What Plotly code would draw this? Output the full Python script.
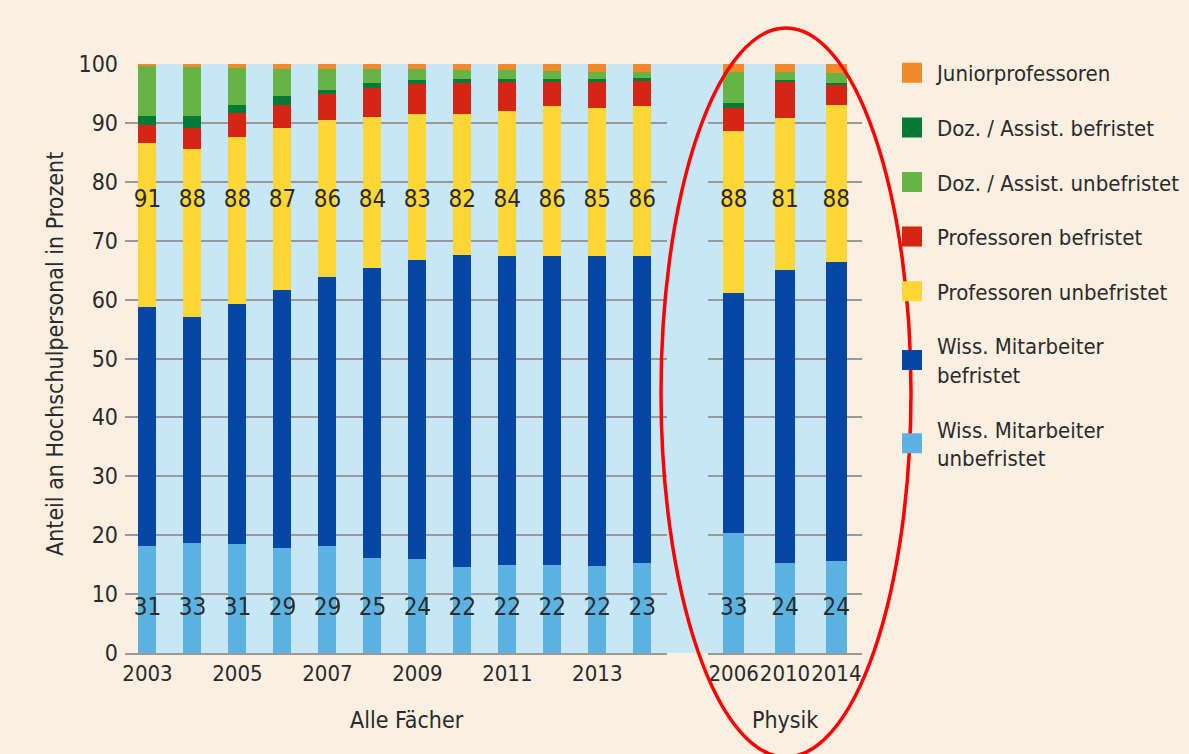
import plotly.graph_objects as go

# ---------------- data ----------------
years = [2003, 2004, 2005, 2006, 2007, 2008, 2009, 2010, 2011, 2012, 2013, 2014]
wiss_unbef = [18.2, 18.7, 18.5, 17.9, 18.2, 16.1, 15.9, 14.6, 14.9, 14.9, 14.8, 15.2]
wiss_bef = [40.6, 38.4, 40.8, 43.7, 45.7, 49.2, 50.8, 53.0, 52.5, 52.5, 52.6, 52.2]
prof_unbef = [27.8, 28.4, 28.3, 27.5, 26.6, 25.7, 24.8, 23.9, 24.7, 25.4, 25.2, 25.5]
prof_bef = [3.0, 3.7, 4.0, 4.0, 4.4, 5.0, 5.1, 5.2, 4.8, 4.2, 4.3, 4.2]
doz_bef = [1.5, 1.9, 1.5, 1.5, 0.7, 0.7, 0.7, 0.8, 0.6, 0.5, 0.6, 0.6]
doz_unbef = [8.6, 8.4, 6.3, 4.6, 3.6, 2.5, 1.8, 1.4, 1.4, 1.3, 1.2, 1.0]
junior = [0.3, 0.5, 0.6, 0.8, 0.8, 0.8, 0.9, 1.1, 1.1, 1.2, 1.3, 1.3]
label_low = [31, 33, 31, 29, 29, 25, 24, 22, 22, 22, 22, 23]
label_high = [91, 88, 88, 87, 86, 84, 83, 82, 84, 86, 85, 86]

p_years = ["2006", "2010", "2014"]
p_wiss_unbef = [20.3, 15.3, 15.7]
p_wiss_bef = [40.9, 49.8, 50.7]
p_prof_unbef = [27.5, 25.7, 26.6]
p_prof_bef = [3.8, 6.1, 3.5]
p_doz_bef = [0.9, 0.4, 0.3]
p_doz_unbef = [5.3, 1.4, 1.6]
p_junior = [1.3, 1.3, 1.6]
p_label_low = [33, 24, 24]
p_label_high = [88, 81, 88]

x_ticks_left = [2003, 2005, 2007, 2009, 2011, 2013]
y_ticks = [0, 10, 20, 30, 40, 50, 60, 70, 80, 90, 100]

# ---------------- style ----------------
FONT = "Liberation Sans Narrow, DejaVu Sans Condensed, Roboto Condensed, Arial Narrow, sans-serif"
TXT = "#2a2a2a"
BG = "#fbefe2"
PLOTBLUE = "#c7e6f6"
GRID = "#999999"

series = [
    ("Wiss. Mitarbeiter<br>unbefristet", wiss_unbef, p_wiss_unbef, "#5cb3e1"),
    ("Wiss. Mitarbeiter<br>befristet", wiss_bef, p_wiss_bef, "#0646a5"),
    ("Professoren unbefristet", prof_unbef, p_prof_unbef, "#fed736"),
    ("Professoren befristet", prof_bef, p_prof_bef, "#d52515"),
    ("Doz. / Assist. befristet", doz_bef, p_doz_bef, "#067a38"),
    ("Doz. / Assist. unbefristet", doz_unbef, p_doz_unbef, "#66b445"),
    ("Juniorprofessoren", junior, p_junior, "#f28a2b"),
]
legend_order = ["Juniorprofessoren", "Doz. / Assist. befristet", "Doz. / Assist. unbefristet",
                "Professoren befristet", "Professoren unbefristet",
                "Wiss. Mitarbeiter<br>befristet", "Wiss. Mitarbeiter<br>unbefristet"]

fig = go.Figure()
BW = 0.4
for name, vals, pvals, col in series:
    fig.add_trace(go.Bar(x=years, y=vals, marker=dict(color=col, line=dict(width=0)),
                         width=BW, xaxis="x", yaxis="y", showlegend=False, hoverinfo="skip"))
    fig.add_trace(go.Bar(x=p_years, y=pvals, marker=dict(color=col, line=dict(width=0)),
                         width=BW, xaxis="x2", yaxis="y2", showlegend=False, hoverinfo="skip"))

# in-bar labels
LOW_Y, HIGH_Y = 7.4, 76.7
LBL = dict(family=FONT, size=24, color=TXT)
fig.add_trace(go.Scatter(x=years, y=[LOW_Y] * len(years), text=[str(v) for v in label_low],
                         mode="text", textfont=LBL,
                         xaxis="x", yaxis="y", showlegend=False, hoverinfo="skip", cliponaxis=False))
fig.add_trace(go.Scatter(x=years, y=[HIGH_Y] * len(years), text=[str(v) for v in label_high],
                         mode="text", textfont=LBL,
                         xaxis="x", yaxis="y", showlegend=False, hoverinfo="skip", cliponaxis=False))
fig.add_trace(go.Scatter(x=p_years, y=[LOW_Y] * 3, text=[str(v) for v in p_label_low],
                         mode="text", textfont=LBL,
                         xaxis="x2", yaxis="y2", showlegend=False, hoverinfo="skip", cliponaxis=False))
fig.add_trace(go.Scatter(x=p_years, y=[HIGH_Y] * 3, text=[str(v) for v in p_label_high],
                         mode="text", textfont=LBL,
                         xaxis="x2", yaxis="y2", showlegend=False, hoverinfo="skip", cliponaxis=False))

# legend entries
colors = {s[0]: s[3] for s in series}
for i, name in enumerate(legend_order):
    c = colors[name]
    fig.add_trace(go.Scatter(x=[None], y=[None], mode="markers", name=name,
                             marker=dict(symbol="square", size=16, color=c, line=dict(color=c, width=4)),
                             legendgroup="g%d" % i, xaxis="x", yaxis="y", hoverinfo="skip"))

# ---------------- layout geometry ----------------
W, H = 1189, 754
ML, MR, MT, MB = 125, 1189 - 862, 64, 754 - 653
pw = W - ML - MR
ph = H - MT - MB
dom1 = [0.0, (667 - ML) / pw]
dom2 = [(708 - ML) / pw, 1.0]
r1 = [2002.5, 2014.55]
r2 = [-0.5, 2.5]


def px_x(p):
    return (p - ML) / pw


def px_y(p):
    return (H - MB - p) / ph


def left_to_paper(x):
    return dom1[0] + (x - r1[0]) / (r1[1] - r1[0]) * (dom1[1] - dom1[0])


def right_to_paper(x):
    return dom2[0] + (x - r2[0]) / (r2[1] - r2[0]) * (dom2[1] - dom2[0])


axis_common = dict(showgrid=False, zeroline=False, showline=True, linecolor=GRID, linewidth=2,
                   ticks="", tickangle=0, tickfont=dict(family=FONT, size=22, color=TXT),
                   fixedrange=True, automargin=False)

fig.update_layout(
    width=W, height=H,
    margin=dict(l=ML, r=MR, t=MT, b=MB, pad=0, autoexpand=False),
    paper_bgcolor=BG, plot_bgcolor="rgba(0,0,0,0)",
    barmode="stack",
    font=dict(family=FONT, color=TXT),
    xaxis=dict(domain=dom1, range=r1, tickvals=x_ticks_left, anchor="y", **axis_common),
    xaxis2=dict(domain=dom2, range=r2, type="category", anchor="y2", **axis_common),
    yaxis=dict(range=[0, 100], tickvals=y_ticks, showgrid=True, gridcolor=GRID, gridwidth=1.5,
               zeroline=False, showline=False, ticks="", ticklabelstandoff=6, automargin=False,
               tickfont=dict(family=FONT, size=23, color=TXT), anchor="x", fixedrange=True),
    yaxis2=dict(range=[0, 100], tickvals=y_ticks, showgrid=True, gridcolor=GRID, gridwidth=1.5,
                zeroline=False, showline=False, showticklabels=False, anchor="x2", matches="y",
                fixedrange=True, automargin=False),
    legend=dict(x=px_x(887), y=px_y(52), xanchor="left", yanchor="top",
                font=dict(family=FONT, size=22, color=TXT), bgcolor="rgba(0,0,0,0)",
                tracegroupgap=23, traceorder="grouped", itemwidth=40, maxheight=680,
                itemclick=False, itemdoubleclick=False),
    showlegend=True,
)

# light-blue backdrop behind the bars
fig.add_shape(type="rect", xref="paper", yref="paper",
              x0=left_to_paper(years[0] - BW / 2), x1=right_to_paper(2 + BW / 2),
              y0=0, y1=1, fillcolor=PLOTBLUE, line=dict(width=0), layer="below")

# red ellipse around Physik
fig.add_shape(type="circle", xref="paper", yref="paper",
              x0=px_x(661), x1=px_x(911), y0=px_y(757), y1=px_y(28),
              line=dict(color="#ff0000", width=3.5), fillcolor="rgba(0,0,0,0)", layer="above")

# titles
fig.add_annotation(text="Alle Fächer", xref="paper", yref="paper", x=px_x(407), y=px_y(720),
                   showarrow=False, font=dict(family=FONT, size=23, color=TXT),
                   xanchor="center", yanchor="middle")
fig.add_annotation(text="Physik", xref="paper", yref="paper", x=right_to_paper(1), y=px_y(720),
                   showarrow=False, font=dict(family=FONT, size=23, color=TXT),
                   xanchor="center", yanchor="middle")
fig.add_annotation(text="Anteil an Hochschulpersonal in Prozent", xref="paper", yref="paper",
                   x=px_x(55), y=px_y(354), textangle=-90, showarrow=False,
                   font=dict(family=FONT, size=23, color=TXT), xanchor="center", yanchor="middle")

fig.write_html("out.html", config={"displayModeBar": False},
               post_script="document.body.style.margin='0px';")
